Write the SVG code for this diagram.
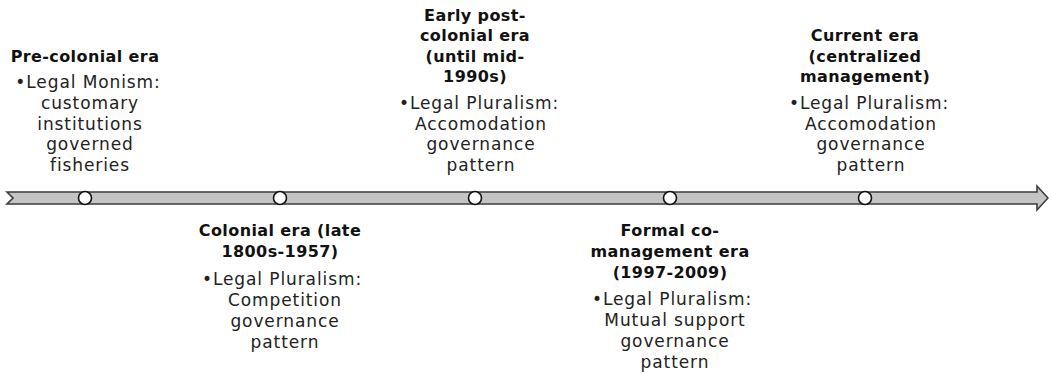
<svg xmlns="http://www.w3.org/2000/svg" width="1049" height="373" viewBox="0 0 1049 373">
<style>
.h{font-family:"DejaVu Sans","Verdana",sans-serif;font-weight:bold;font-size:16px;letter-spacing:0.4px;fill:#111;text-anchor:middle}
.b{font-family:"DejaVu Sans","Verdana",sans-serif;font-size:17px;letter-spacing:0.9px;fill:#222;text-anchor:middle}
.dot{fill:#fff;stroke:#111;stroke-width:1.6}
</style>
<rect width="1049" height="373" fill="#fff"/>
<g id="connectors">
<path d="M7,192 L1037,192 L1037,186 L1048,198 L1037,210 L1037,204 L7,204 L13,198 Z" fill="#c4c4c4" stroke="#3c3c3c" stroke-width="1.6" stroke-linejoin="miter"/>
</g>
<g id="n1">
<circle class="dot" cx="85" cy="198" r="6.5"/>
<text class="h" x="85" y="62">Pre-colonial era</text>
<text class="b" x="88" y="88">•Legal Monism:</text>
<text class="b" x="90" y="109">customary</text>
<text class="b" x="90" y="130">institutions</text>
<text class="b" x="90" y="150">governed</text>
<text class="b" x="90" y="171">fisheries</text>
</g>
<g id="n2">
<circle class="dot" cx="280" cy="198" r="6.5"/>
<text class="h" x="280" y="236">Colonial era (late</text>
<text class="h" x="280" y="257">1800s-1957)</text>
<text class="b" x="282" y="285">•Legal Pluralism:</text>
<text class="b" x="285" y="306">Competition</text>
<text class="b" x="285" y="327">governance</text>
<text class="b" x="285" y="348">pattern</text>
</g>
<g id="n3">
<circle class="dot" cx="475" cy="198" r="6.5"/>
<text class="h" x="475" y="21">Early post-</text>
<text class="h" x="475" y="41">colonial era</text>
<text class="h" x="475" y="62">(until mid-</text>
<text class="h" x="475" y="82">1990s)</text>
<text class="b" x="479" y="109">•Legal Pluralism:</text>
<text class="b" x="481" y="130">Accomodation</text>
<text class="b" x="481" y="150">governance</text>
<text class="b" x="481" y="171">pattern</text>
</g>
<g id="n4">
<circle class="dot" cx="670" cy="198" r="6.5"/>
<text class="h" x="670" y="236">Formal co-</text>
<text class="h" x="670" y="257">management era</text>
<text class="h" x="670" y="278">(1997-2009)</text>
<text class="b" x="672" y="305">•Legal Pluralism:</text>
<text class="b" x="675" y="326">Mutual support</text>
<text class="b" x="675" y="347">governance</text>
<text class="b" x="675" y="368">pattern</text>
</g>
<g id="n5">
<circle class="dot" cx="865" cy="198" r="6.5"/>
<text class="h" x="865" y="41">Current era</text>
<text class="h" x="865" y="62">(centralized</text>
<text class="h" x="865" y="82">management)</text>
<text class="b" x="869" y="109">•Legal Pluralism:</text>
<text class="b" x="871" y="130">Accomodation</text>
<text class="b" x="871" y="150">governance</text>
<text class="b" x="871" y="171">pattern</text>
</g>
</svg>
